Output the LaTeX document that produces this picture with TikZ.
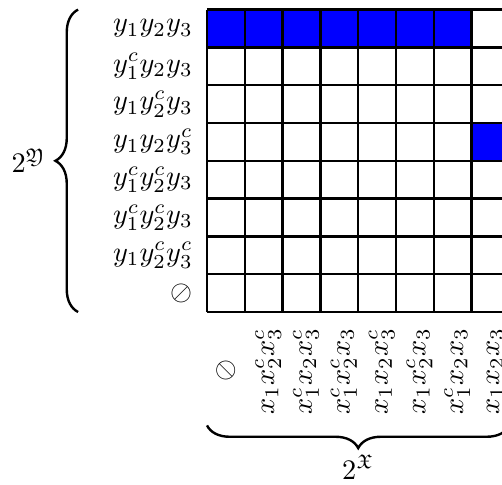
\documentclass[tikz,border=0pt]{standalone}
\usepackage{amssymb}
\usetikzlibrary{decorations.pathreplacing}
\newcommand{\scm}[1]{\scalebox{2.13}{$#1$}}
\begin{document}
\begin{tikzpicture}[
  gridline/.style={line width=1.7pt},
  cell/.style={fill=blue},
  rowlab/.style={anchor=east, inner sep=0pt},
  collab/.style={rotate=90, anchor=center, inner sep=0pt},
  bracestyle/.style={line width=1.8pt, decorate, decoration={brace, amplitude=0.6cm}}
]
\useasboundingbox (-5.476,-4.550) rectangle (7.804,8.254);
% blue cells
\foreach \c in {0,...,6} { \fill[cell] (\c,7) rectangle ++(1,1); }
\fill[cell] (7,4) rectangle (8,5);
% grid
\draw[gridline] (0,0) grid (8,8);
% row labels
\node[rowlab] (r1) at (-0.37,7.5) {\scm{y_1y_2y_3}};
\node[rowlab] (r2) at (-0.37,6.5) {\scm{y_1^cy_2y_3}};
\node[rowlab] (r3) at (-0.37,5.5) {\scm{y_1y_2^cy_3}};
\node[rowlab] (r4) at (-0.37,4.5) {\scm{y_1y_2y_3^c}};
\node[rowlab] (r5) at (-0.37,3.5) {\scm{y_1^cy_2^cy_3}};
\node[rowlab] (r6) at (-0.37,2.5) {\scm{y_1^cy_2^cy_3}};
\node[rowlab] (r7) at (-0.37,1.5) {\scm{y_1y_2^cy_3^c}};
\node[rowlab] (r8) at (-0.37,0.5) {\scm{\oslash}};
% column labels
\node[collab] (c1) at (0.5,-1.56) {\scm{\oslash}};
\node[collab] (c2) at (1.62,-1.56) {\scm{x_1x_2^cx_3^c}};
\node[collab] (c3) at (2.62,-1.56) {\scm{x_1^cx_2x_3^c}};
\node[collab] (c4) at (3.62,-1.56) {\scm{x_1^cx_2^cx_3}};
\node[collab] (c5) at (4.62,-1.56) {\scm{x_1x_2x_3^c}};
\node[collab] (c6) at (5.62,-1.56) {\scm{x_1x_2^cx_3}};
\node[collab] (c7) at (6.62,-1.56) {\scm{x_1^cx_2x_3}};
\node[collab] (c8) at (7.62,-1.56) {\scm{x_1x_2x_3}};
% braces
\coordinate (lb) at (-3.41,0);
\coordinate (lt) at (-3.41,8);
\draw[bracestyle] (lb) -- (lt);
\node[anchor=east, inner sep=0pt] (ly) at (-4.25,4) {\scm{2^{\mathfrak{Y}}}};
\coordinate (br) at (8,-3);
\coordinate (bl) at (0,-3);
\draw[bracestyle] (br) -- (bl);
\node[anchor=north, inner sep=0pt] (lx) at (4,-3.78) {\scm{2^{\mathfrak{X}}}};
\end{tikzpicture}
\end{document}
